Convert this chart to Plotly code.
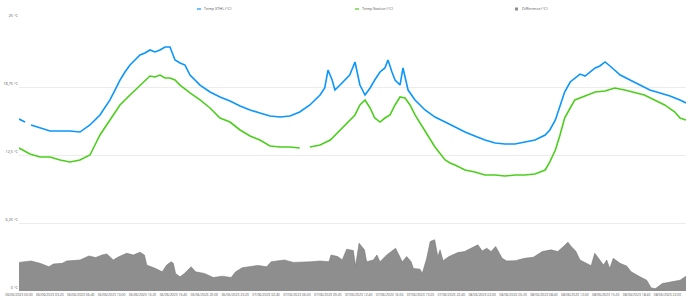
import pandas as pd
import plotly.graph_objects as go

START = "2023-06-06 00:00"

# Temp XTHL (°C): hours since start, values
xthl_hours = [0, 0.65, 1.0, 1.3, 2.27, 3.35, 4.43, 5.5, 6.58, 7.66, 8.74, 9.82, 10.36, 10.9, 11.44,
              11.98, 12.52, 13.06, 13.6, 14.14, 14.68, 15.22, 15.76, 16.3, 16.84, 17.38, 17.92,
              18.46, 19.54, 20.62, 21.7, 22.78, 23.86, 24.94, 26.0, 27.1, 28.2, 29.25, 30.3, 30.9,
              31.4, 31.95, 32.5, 33.0, 33.36, 33.8, 34.1, 34.65, 35.2, 35.7, 36.27, 36.6, 36.8,
              37.35, 37.9, 38.4, 38.97, 39.5, 39.83, 40.26, 40.59, 41.13, 41.45, 42.0, 42.75,
              43.83, 44.9, 46.0, 47.07, 48.15, 49.2, 50.3, 51.4, 52.46, 53.54, 54.6, 55.7, 56.8,
              57.3, 57.9, 58.4, 58.9, 59.5, 60.0, 60.56, 61.1, 61.64, 62.2, 62.7, 63.26, 63.8,
              64.3, 64.9, 65.96, 67.0, 68.1, 69.2, 70.27, 71.35, 72.0]
xthl_vals = [15.81, 15.53, None, 15.26, 14.98, 14.71, 14.71, 14.71, 14.61, 15.26, 16.18, 17.56, 18.47,
             19.39, 20.13, 20.77, 21.23, 21.69, 21.88, 22.15, 21.97, 22.15, 22.43, 22.43, 21.23,
             20.96, 20.77, 19.85, 18.93, 18.29, 17.83, 17.46, 17.0, 16.64, 16.36, 16.08, 15.99,
             16.08, 16.45, 16.82, 17.1, 17.56, 18.01, 18.66, 20.31, 19.39, 18.47, 18.93, 19.39,
             19.85, 21.05, 19.85, 18.93, 18.01, 18.66, 19.39, 20.13, 20.5, 21.23, 20.13, 19.39,
             18.93, 20.5, 18.47, 17.56, 16.64, 15.99, 15.53, 15.07, 14.61, 14.25, 13.88, 13.6,
             13.51, 13.51, 13.69, 13.88, 14.34, 14.8, 15.72, 17.1, 18.29, 19.21, 19.58, 19.94,
             19.76, 20.13, 20.5, 20.68, 21.05, 20.68, 20.31, 19.85, 19.39, 18.93, 18.47, 18.2,
             17.92, 17.56, 17.28]

# Temp Station (°C)
station_hours = [0, 1.19, 2.27, 3.35, 4.43, 5.5, 6.58, 7.66, 8.2, 8.74, 9.82, 10.9, 11.98, 13.06,
                 13.6, 14.14, 14.68, 15.22, 15.76, 16.3, 16.84, 17.38, 18.46, 19.54, 20.62, 21.7,
                 22.78, 23.86, 24.94, 26.0, 27.1, 28.2, 29.25, 30.3, 31.2, 31.4, 32.5, 33.6, 34.65,
                 35.2, 35.7, 36.27, 36.8, 37.35, 37.9, 38.4, 38.97, 39.5, 40.05, 40.59, 41.13,
                 41.67, 42.21, 42.75, 43.83, 44.9, 46.0, 46.53, 47.07, 48.15, 49.2, 50.3, 51.4,
                 52.46, 53.54, 54.6, 55.7, 56.25, 56.8, 57.3, 57.9, 58.4, 58.9, 59.5, 60.0, 61.1,
                 62.2, 63.26, 64.3, 65.4, 66.5, 67.5, 68.6, 69.7, 70.8, 71.35, 72.0]
station_vals = [13.14, 12.59, 12.32, 12.32, 12.04, 11.86, 12.04, 12.5, 13.42, 14.34, 15.72, 17.1,
                18.01, 18.93, 19.39, 19.76, 19.67, 19.85, 19.58, 19.58, 19.39, 18.93, 18.2, 17.56,
                16.82, 15.9, 15.53, 14.8, 14.25, 13.88, 13.33, 13.24, 13.24, 13.14, None, 13.24,
                13.42, 13.88, 14.8, 15.26, 15.72, 16.18, 17.1, 17.56, 16.82, 15.9, 15.53, 15.9,
                16.18, 17.1, 17.83, 17.74, 17.1, 16.18, 14.71, 13.24, 12.04, 11.76, 11.58, 11.12,
                10.94, 10.66, 10.66, 10.57, 10.66, 10.66, 10.75, 10.94, 11.12, 11.86, 12.96, 14.34,
                15.9, 16.82, 17.56, 17.92, 18.29, 18.38, 18.66, 18.47, 18.2, 18.01, 17.56, 17.1,
                16.45, 15.9, 15.72]

# Difference (°C)
diff_hours = [0, 1.31, 2.27, 3.23, 3.71, 4.67, 5.15, 6.59, 7.55, 8.27, 8.98, 9.47, 10.18, 10.66,
              11.62, 12.34, 13.06, 13.54, 13.79, 14.74, 15.46, 15.94, 16.42, 16.66, 16.9, 17.38,
              17.86, 18.58, 19.06, 20.02, 20.98, 21.94, 22.9, 23.38, 24.1, 24.82, 25.78, 26.74,
              27.22, 28.65, 29.61, 31.53, 32.49, 33.45, 33.69, 34.41, 34.89, 35.37, 36.09, 36.33,
              36.71, 37.29, 37.53, 38.25, 38.63, 38.97, 39.69, 40.65, 41.37, 41.85, 42.33, 42.57,
              43.29, 43.53, 44.01, 44.39, 44.87, 45.21, 45.45, 45.78, 46.41, 47.37, 48.09, 48.8,
              49.53, 50.0, 50.49, 50.96, 51.45, 52.16, 52.65, 53.6, 54.56, 55.52, 56.48, 57.44,
              58.16, 58.64, 59.26, 59.6, 60.09, 60.56, 61.28, 61.76, 62.15, 62.72, 63.1, 63.44,
              63.77, 64.15, 64.88, 65.6, 66.08, 67.04, 67.76, 68.24, 68.72, 69.44, 70.4, 71.36, 72.0]
diff_vals = [2.63, 2.76, 2.54, 2.23, 2.48, 2.54, 2.76, 2.85, 3.22, 3.07, 3.31, 3.41, 2.85, 3.1,
             3.47, 3.31, 3.56, 3.31, 2.38, 2.07, 1.76, 2.38, 2.69, 2.54, 1.61, 1.3, 1.61, 2.23,
             1.76, 1.61, 1.24, 1.36, 1.24, 1.76, 2.14, 2.23, 2.35, 2.23, 2.69, 2.85, 2.63, 2.69,
             2.76, 2.69, 3.31, 3.16, 2.85, 3.84, 3.72, 2.29, 4.4, 3.78, 2.69, 2.85, 3.31, 2.69,
             3.31, 3.93, 2.69, 3.16, 2.69, 2.07, 2.01, 1.61, 3.0, 4.55, 4.71, 3.16, 3.78, 2.79,
             3.16, 3.53, 3.62, 3.93, 4.24, 3.68, 3.93, 3.62, 4.09, 3.0, 2.76, 2.79, 3.0, 3.1,
             3.62, 3.78, 3.62, 3.99, 4.49, 4.09, 3.68, 2.85, 2.54, 2.32, 3.47, 2.85, 2.38, 2.85,
             2.07, 3.0, 2.54, 2.29, 1.76, 1.3, 0.99, 0.28, 0.22, 0.68, 0.84, 0.99, 1.36, 1.46]

y_tickvals = [0, 6.25, 12.5, 18.75, 25]
y_ticktext = ["0 °C", "6,25 °C", "12,5 °C", "18,75 °C", "25 °C"]
x_tick_step_minutes = 200
x_tick_count = 22
legend_names = ["Temp XTHL (°C)", "Temp Station (°C)", "Difference (°C)"]

BLUE = "#0a96fa"
GREEN = "#4ccf1c"
GREY = "#8e8e8e"

base = pd.Timestamp(START)
def to_time(hours):
    return [base + pd.Timedelta(hours=h) for h in hours]

fig = go.Figure()
fig.add_trace(go.Scatter(x=to_time(diff_hours), y=diff_vals, name=legend_names[2],
                         mode="lines", fill="tozeroy", fillcolor=GREY,
                         line=dict(color="#7a7a7a", width=0.6), connectgaps=False))
fig.add_trace(go.Scatter(x=to_time(xthl_hours), y=xthl_vals, name=legend_names[0],
                         mode="lines", line=dict(color=BLUE, width=1.6), connectgaps=False))
fig.add_trace(go.Scatter(x=to_time(station_hours), y=station_vals, name=legend_names[1],
                         mode="lines", line=dict(color=GREEN, width=1.6), connectgaps=False))

tickvals = [base + pd.Timedelta(minutes=x_tick_step_minutes * i) for i in range(x_tick_count)]
ticktext = [t.strftime("%d/%m/%Y %H:%M") for t in tickvals]

ML, MR, MT, MB = 19, 4, 19, 9
W, H = 690, 300
fig.update_layout(
    width=W, height=H,
    margin=dict(l=ML, r=MR, t=MT, b=MB),
    paper_bgcolor="white", plot_bgcolor="white",
    showlegend=False,
    font=dict(family="Open Sans", size=4, color="#555"),
    xaxis=dict(type="date", range=[base, base + pd.Timedelta(hours=72)],
               tickvals=tickvals, ticktext=ticktext, showgrid=False, zeroline=False,
               showline=False, ticks="", tickfont=dict(size=3.4, color="#555"),
               ticklabelstandoff=1),
    yaxis=dict(range=[0, 25], tickvals=y_tickvals, ticktext=y_ticktext,
               showgrid=True, gridcolor="#ececec", gridwidth=1, zeroline=False,
               showline=False, ticks="", tickfont=dict(size=3.8, color="#555"),
               ticklabelshift=-3),
)

# legend drawn as markers + text (pixel positions converted to paper coords)
pw, ph = W - ML - MR, H - MT - MB
def px2x(px):
    return (px - ML) / pw
def py2y(py):
    return (H - MB - py) / ph

legend_x = [200, 358, 518]
legend_col = [BLUE, GREEN, GREY]
ly = py2y(9)
for i, (name, col, px) in enumerate(zip(legend_names, legend_col, legend_x)):
    if i < 2:
        fig.add_shape(type="line", xref="paper", yref="paper",
                      x0=px2x(px - 3), x1=px2x(px + 1), y0=ly, y1=ly,
                      line=dict(color=col, width=1.2))
    else:
        fig.add_shape(type="rect", xref="paper", yref="paper",
                      x0=px2x(px - 3), x1=px2x(px), y0=py2y(10.5), y1=py2y(7.5),
                      line=dict(width=0), fillcolor=col)
    fig.add_annotation(x=px2x(px + 2), y=ly, xref="paper", yref="paper",
                       xanchor="left", yanchor="middle", showarrow=False,
                       text=name, font=dict(size=3.8, color="#555"))

fig.write_html("out.html")
